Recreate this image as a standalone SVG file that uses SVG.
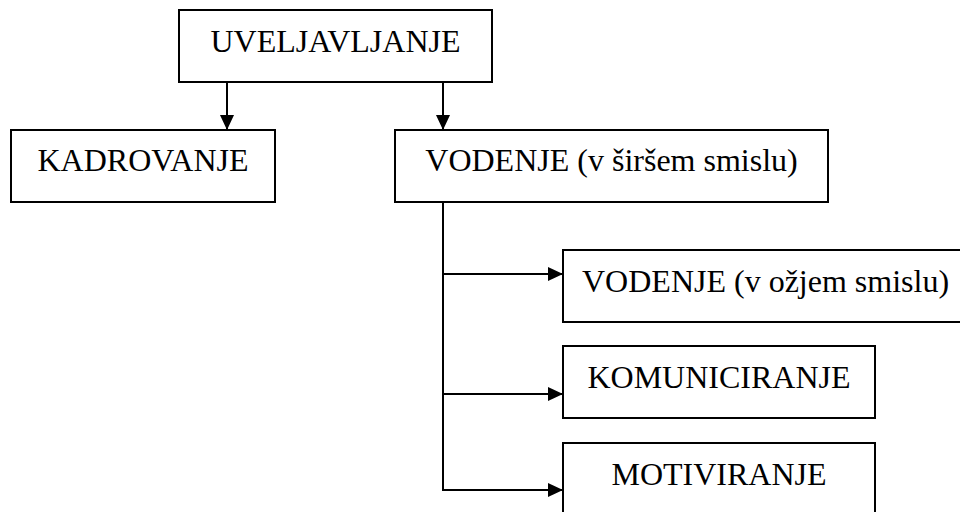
<svg xmlns="http://www.w3.org/2000/svg" width="960" height="512" viewBox="0 0 960 512">
<style>
.box{fill:#fff;stroke:#000;stroke-width:2}
.t{font-family:"Liberation Serif","Times New Roman",serif;font-size:32px;fill:#000}
.c{text-anchor:middle}
.ln{fill:none;stroke:#000;stroke-width:2}
</style>
<defs>
<marker id="ah" markerUnits="userSpaceOnUse" markerWidth="15" markerHeight="14" refX="15" refY="7" orient="auto">
<path d="M0,0 L15,7 L0,14 z" fill="#000"/>
</marker>
</defs>
<rect width="960" height="512" fill="#fff"/>
<g id="connectors">
<line class="ln" x1="227" y1="82" x2="227" y2="130" marker-end="url(#ah)"/>
<line class="ln" x1="443" y1="82" x2="443" y2="130" marker-end="url(#ah)"/>
<line class="ln" x1="443" y1="202" x2="443" y2="491"/>
<line class="ln" x1="442" y1="274" x2="563" y2="274" marker-end="url(#ah)"/>
<line class="ln" x1="442" y1="394" x2="563" y2="394" marker-end="url(#ah)"/>
<line class="ln" x1="442" y1="490" x2="563" y2="490" marker-end="url(#ah)"/>
</g>
<g id="uveljavljanje">
<rect class="box" x="179" y="10" width="313" height="72"/>
<text class="t c" x="335.5" y="52">UVELJAVLJANJE</text>
</g>
<g id="kadrovanje">
<rect class="box" x="11" y="130" width="264" height="72"/>
<text class="t c" x="143" y="171">KADROVANJE</text>
</g>
<g id="vodenje-sirse">
<rect class="box" x="395" y="130" width="433" height="72"/>
<text class="t c" x="611.5" y="171">VODENJE (v širšem smislu)</text>
</g>
<g id="vodenje-ozje">
<rect class="box" x="563" y="250" width="400" height="72"/>
<text class="t" x="582" y="292">VODENJE (v ožjem smislu)</text>
</g>
<g id="komuniciranje">
<rect class="box" x="563" y="346" width="312" height="72"/>
<text class="t c" x="719" y="388">KOMUNICIRANJE</text>
</g>
<g id="motiviranje">
<rect class="box" x="563" y="443" width="312" height="72"/>
<text class="t c" x="719" y="485">MOTIVIRANJE</text>
</g>
</svg>
